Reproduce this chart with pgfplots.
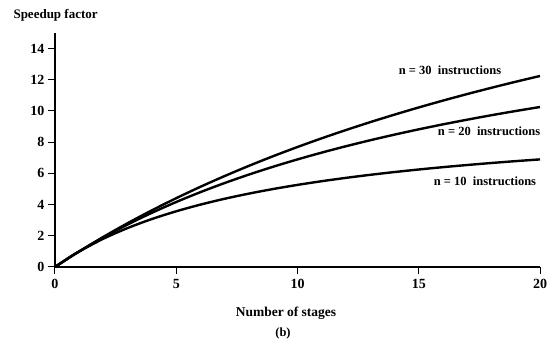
\documentclass[border=0pt]{standalone}
\usepackage{pgfplots}
\pgfplotsset{compat=1.18}
\usepackage{fontspec}
\setmainfont{Liberation Serif}
\begin{document}
\begin{tikzpicture}
\useasboundingbox (-55pt,-77pt) rectangle (496pt,267pt);
\begin{axis}[
  at={(0pt,0pt)}, anchor=south west,
  scale only axis, width=485pt, height=234pt,
  xmin=0, xmax=20, ymin=0, ymax=15,
  axis x line*=bottom, axis y line*=left,
  axis line style={line width=1.1pt, -},
  xtick={0,5,10,15,20}, ytick={0,2,4,6,8,10,12,14},
  tick align=outside, major tick length=7pt,
  tick style={line width=1pt, black},
  /pgf/number format/assume math mode=true,
  ticklabel style={font=\fontsize{14}{16}\selectfont\bfseries},
  xticklabel style={yshift=-2pt},
  clip=false,
]
\addplot[smooth, line width=2.4pt, black] coordinates {
(0,0) (0.5,0.526) (1,1) (2,1.818) (3,2.5) (4,3.077) (5,3.571) (6,4) (7,4.375) (8,4.706) (9,5) (10,5.263) (11,5.5) (12,5.714) (13,5.909) (14,6.087) (15,6.25) (16,6.4) (17,6.538) (18,6.667) (19,6.786) (20,6.897)};
\addplot[smooth, line width=2.4pt, black] coordinates {
(0,0) (0.5,0.513) (1,1) (2,1.905) (3,2.727) (4,3.478) (5,4.167) (6,4.8) (7,5.385) (8,5.926) (9,6.429) (10,6.897) (11,7.333) (12,7.742) (13,8.125) (14,8.485) (15,8.824) (16,9.143) (17,9.444) (18,9.730) (19,10) (20,10.256)};
\addplot[smooth, line width=2.4pt, black] coordinates {
(0,0) (0.5,0.508) (1,1) (2,1.935) (3,2.813) (4,3.636) (5,4.412) (6,5.143) (7,5.833) (8,6.486) (9,7.105) (10,7.692) (11,8.25) (12,8.780) (13,9.286) (14,9.767) (15,10.227) (16,10.667) (17,11.087) (18,11.489) (19,11.875) (20,12.245)};
\node[font=\fontsize{12.5}{14}\selectfont\bfseries] at (axis cs:16.29,12.63) {n = 30\ \ instructions};
\node[font=\fontsize{12.5}{14}\selectfont\bfseries] at (axis cs:17.9,8.72) {n = 20\ \ instructions};
\node[font=\fontsize{12.5}{14}\selectfont\bfseries] at (axis cs:17.73,5.51) {n = 10\ \ instructions};
\end{axis}
\node[anchor=west, font=\fontsize{13}{15}\selectfont\bfseries] at (-45pt,252pt) {Speedup factor};
\node[font=\fontsize{13.5}{15}\selectfont\bfseries] at (231pt,-46pt) {Number of stages};
\node[font=\fontsize{12.5}{14}\selectfont\bfseries] at (228pt,-66pt) {(b)};
\end{tikzpicture}
\end{document}
